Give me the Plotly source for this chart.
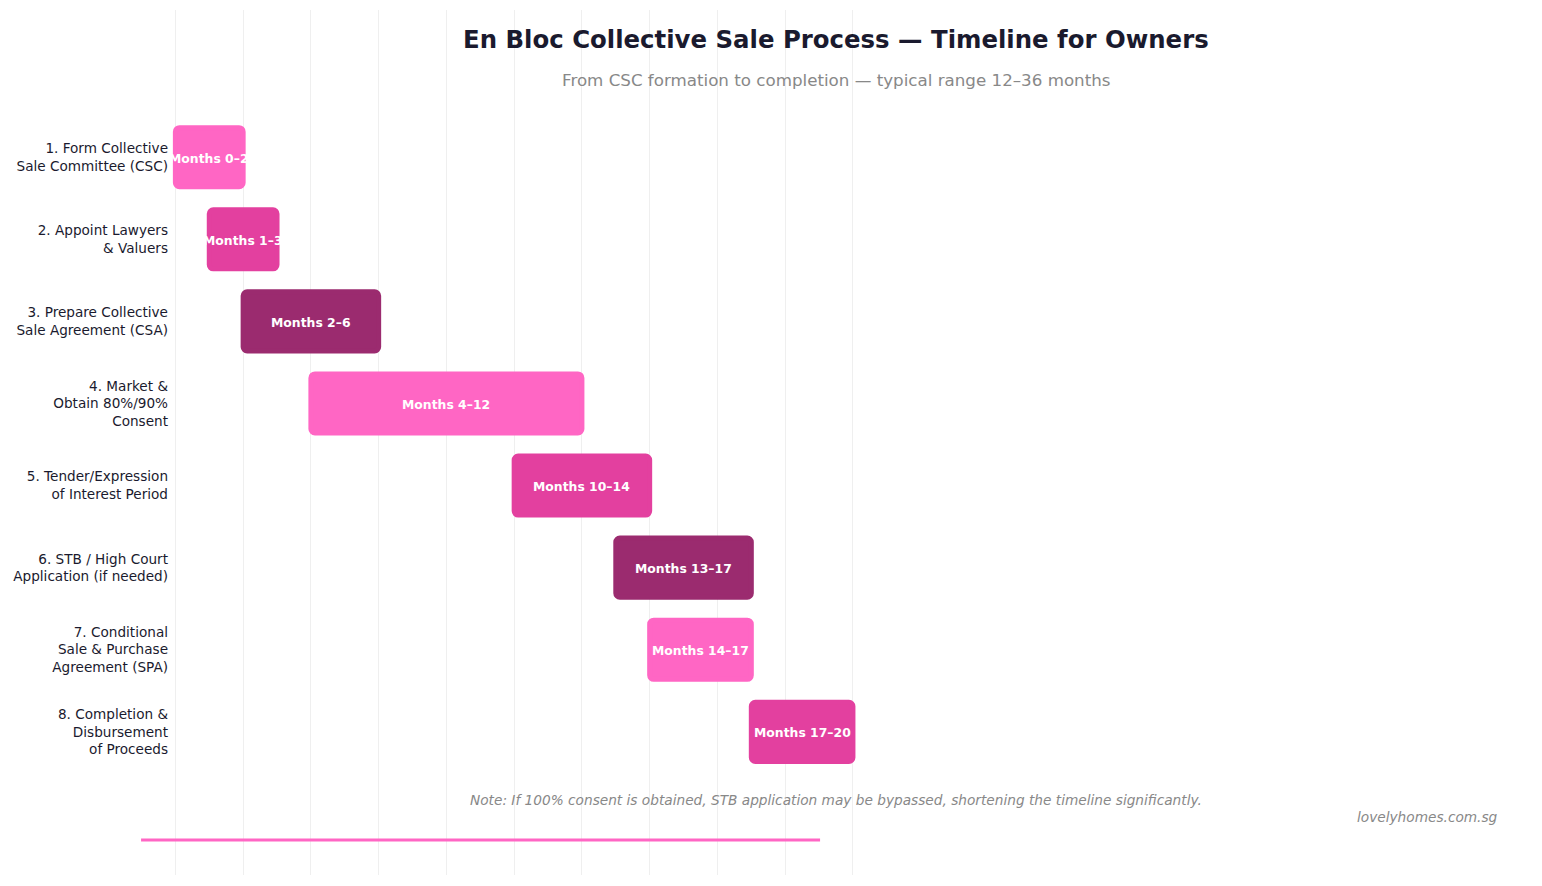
import plotly.graph_objects as go

steps = [
    "1. Form Collective<br>Sale Committee (CSC)",
    "2. Appoint Lawyers<br>& Valuers",
    "3. Prepare Collective<br>Sale Agreement (CSA)",
    "4. Market &<br>Obtain 80%/90%<br>Consent",
    "5. Tender/Expression<br>of Interest Period",
    "6. STB / High Court<br>Application (if needed)",
    "7. Conditional<br>Sale & Purchase<br>Agreement (SPA)",
    "8. Completion &<br>Disbursement<br>of Proceeds",
]
start_month = [0, 1, 2, 4, 10, 13, 14, 17]
end_month = [2, 3, 6, 12, 14, 17, 17, 20]
palette = ["#FF66C4", "#E3409F", "#9B2B6F"]
colors = [palette[i % 3] for i in range(len(steps))]
labels = [f"Months {s}–{e}" for s, e in zip(start_month, end_month)]
durations = [e - s for s, e in zip(start_month, end_month)]
midpoints = [(s + e) / 2 for s, e in zip(start_month, end_month)]

fig = go.Figure()
fig.add_trace(go.Bar(
    y=steps,
    x=durations,
    base=start_month,
    orientation="h",
    width=0.72,
    marker=dict(color=colors, line=dict(color=colors, width=5), cornerradius=4),
    hoverinfo="skip",
    showlegend=False,
))

label_annotations = [
    dict(x=m, y=s, xref="x", yref="y", text=f"<b>{t}</b>", showarrow=False,
         xanchor="center", yanchor="middle", yshift=-1,
         font=dict(color="white", size=12.4, family="DejaVu Sans"))
    for m, s, t in zip(midpoints, steps, labels)
]

fig.update_layout(
    width=1542, height=886,
    margin=dict(l=172, r=42, t=10, b=11),
    paper_bgcolor="white", plot_bgcolor="white",
    font=dict(family="DejaVu Sans", color="#1a1a2e"),
    xaxis=dict(range=[-0.1, 39.1], tickvals=list(range(0, 21, 2)), showticklabels=False,
               showgrid=True, gridcolor="#efefef", gridwidth=1, zeroline=False, showline=False),
    yaxis=dict(categoryorder="array", categoryarray=steps, range=[8.744, -1.793],
               showgrid=False, zeroline=False, showline=False, ticks="",
               ticklabelstandoff=3,
               tickfont=dict(size=13.6, color="#1a1a2e")),
    shapes=[dict(type="line", xref="paper", yref="paper", x0=-0.0233, x1=0.488, y0=0.0405, y1=0.0405,
                 line=dict(color="#FF66C4", width=3))],
    annotations=label_annotations + [
        dict(text="<b>En Bloc Collective Sale Process — Timeline for Owners</b>", xref="paper", yref="paper",
             x=0.5, y=0.966, xanchor="center", yanchor="middle", showarrow=False,
             font=dict(size=24.4, color="#1a1a2e")),
        dict(text="From CSC formation to completion — typical range 12–36 months", xref="paper", yref="paper",
             x=0.5, y=0.919, xanchor="center", yanchor="middle", showarrow=False,
             font=dict(size=16.7, color="#888888")),
        dict(text="<i>Note: If 100% consent is obtained, STB application may be bypassed, shortening the timeline significantly.</i>",
             xref="paper", yref="paper", x=0.5, y=0.0867, xanchor="center", yanchor="middle", showarrow=False,
             font=dict(size=13.7, color="#888888")),
        dict(text="<i>lovelyhomes.com.sg</i>", xref="paper", yref="paper", x=1.0, y=0.067,
             xanchor="right", yanchor="middle", showarrow=False, font=dict(size=13.7, color="#888888")),
    ],
)

fig.write_html("out.html")
